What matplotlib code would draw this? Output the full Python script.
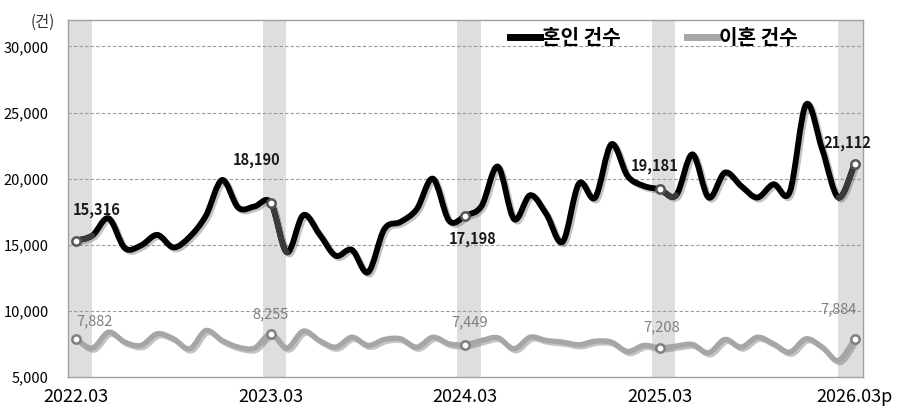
import numpy as np
import matplotlib
matplotlib.use('Agg')
import matplotlib.pyplot as plt
from matplotlib.path import Path
from matplotlib.patches import PathPatch
import matplotlib.patheffects as pe

plt.rcParams['font.family'] = ['Noto Sans CJK KR', 'DejaVu Sans']

# monthly counts, 2022.03 ~ 2026.03p
marriage = [15316, 15700, 17000, 14750, 14950, 15750, 14800, 15600, 17200, 19900, 17800, 17900,
            18190, 14430, 17240, 15800, 14170, 14620, 12920, 16180, 16730, 17690, 20000, 16810,
            17198, 17940, 20910, 16940, 18750, 17300, 15230, 19630, 18570, 22600, 20200, 19450,
            19181, 18750, 21840, 18570, 20460, 19450, 18570, 19580, 19000, 25600, 22220, 18570,
            21112]
divorce = [7882, 7190, 8390, 7640, 7390, 8270, 7890, 7135, 8515, 7760, 7260, 7190,
           8255, 7190, 8470, 7760, 7260, 8010, 7390, 7840, 7890, 7260, 8010, 7510,
           7449, 7760, 7965, 7135, 8010, 7760, 7640, 7440, 7710, 7640, 6930, 7390,
           7208, 7340, 7460, 6830, 7840, 7260, 8010, 7510, 6880, 7890, 7260, 6250,
           7884]

tick_idx = [0, 12, 24, 36, 48]
tick_labels = ['2022.03', '2023.03', '2024.03', '2025.03', '2026.03p']

# label offsets (points) for the marked months
m_offsets = [(15, 22), (-10, 31), (5, -17), (-4, 17), (-5, 15)]
d_offsets = [(13, 13), (0, 14), (3, 16), (1, 15), (-12, 21)]


def smooth_path(x, y, start, stop):
    # catmull-rom style bezier, like excel's smoothed line
    n = len(x)
    verts = [(x[start], y[start])]
    codes = [Path.MOVETO]
    for i in range(start, stop):
        p0 = np.array([x[max(i - 1, 0)], y[max(i - 1, 0)]], float)
        p1 = np.array([x[i], y[i]], float)
        p2 = np.array([x[i + 1], y[i + 1]], float)
        p3 = np.array([x[min(i + 2, n - 1)], y[min(i + 2, n - 1)]], float)
        c1 = p1 + (p2 - p0) / 6
        c2 = p2 - (p3 - p1) / 6
        verts += [tuple(c1), tuple(c2), tuple(p2)]
        codes += [Path.CURVE4] * 3
    return Path(verts, codes)


shadow = [pe.SimpleLineShadow(offset=(1.5, -1.5), shadow_color='#555555', alpha=0.35), pe.Normal()]

fig = plt.figure(figsize=(9, 4.2), dpi=100)
ax = fig.add_axes([0.0756, 0.1024, 0.883, 0.85])

x = np.arange(len(marriage))

# gray bands at march of each year
for i in tick_idx[:-1]:
    ax.axvspan(i - 0.5, i + 0.95, color='#dedede', lw=0, zorder=0)
ax.axvspan(46.95, 48.5, color='#dedede', lw=0, zorder=0)

for v in [10000, 15000, 20000, 25000, 30000]:
    ax.axhline(v, color='#9a9a9a', lw=0.8, ls=(0, (3, 2)), zorder=1)

ax.add_patch(PathPatch(smooth_path(x, divorce, 0, len(x) - 1), fc='none', ec='#a6a6a6',
                       lw=3.8, capstyle='round', joinstyle='round', zorder=3, path_effects=shadow))
ax.add_patch(PathPatch(smooth_path(x, marriage, 0, len(x) - 1), fc='none', ec='black',
                       lw=4.2, capstyle='round', joinstyle='round', zorder=4, path_effects=shadow))

# darker segments next to the marked points
for a, b in [(0, 1), (12, 13), (36, 37), (47, 48)]:
    ax.add_patch(PathPatch(smooth_path(x, marriage, a, b), fc='none', ec='#3a3a3a',
                           lw=4.2, capstyle='round', zorder=4.5))

mx = [x[i] for i in tick_idx]
ax.plot(mx, [marriage[i] for i in tick_idx], 'o', ms=6, mfc='white', mec='#555555', mew=1.8, zorder=6)
ax.plot(mx, [divorce[i] for i in tick_idx], 'o', ms=6, mfc='white', mec='#7f7f7f', mew=1.8, zorder=6)

for k, i in enumerate(tick_idx):
    ax.annotate(f'{marriage[i]:,}', (x[i], marriage[i]), xytext=m_offsets[k], textcoords='offset points',
                ha='center', va='center', fontsize=10.5, fontweight='bold', color='#1a1a1a', zorder=7)
    ax.annotate(f'{divorce[i]:,}', (x[i], divorce[i]), xytext=d_offsets[k], textcoords='offset points',
                ha='center', va='center', fontsize=10.5, color='#7f7f7f', zorder=7)

ax.set_xlim(-0.5, 48.5)
ax.set_ylim(5000, 32000)
ax.set_yticks([5000, 10000, 15000, 20000, 25000, 30000])
ax.set_yticklabels([f'{v:,}' for v in [5000, 10000, 15000, 20000, 25000, 30000]], fontsize=10.5)
ax.set_xticks(tick_idx)
ax.set_xticklabels(tick_labels, fontsize=13)
ax.tick_params(axis='y', length=0, pad=14)
ax.tick_params(axis='x', length=0, pad=8)
for s in ax.spines.values():
    s.set_color('#a0a0a0')
    s.set_linewidth(1)

fig.text(0.047, 0.947, '(건)', fontsize=11, ha='center', va='center', color='#333333')

h1, = ax.plot([], [], color='black', lw=5, label='혼인 건수')
h2, = ax.plot([], [], color='#a6a6a6', lw=5, label='이혼 건수')
ax.legend(handles=[h1, h2], loc='center', bbox_to_anchor=(0.737, 0.95), ncol=2, frameon=False,
          prop={'size': 14.5, 'weight': 'bold'}, handlelength=1.5, handletextpad=0.1,
          columnspacing=3.3)

fig.savefig('out.png', dpi=100)
